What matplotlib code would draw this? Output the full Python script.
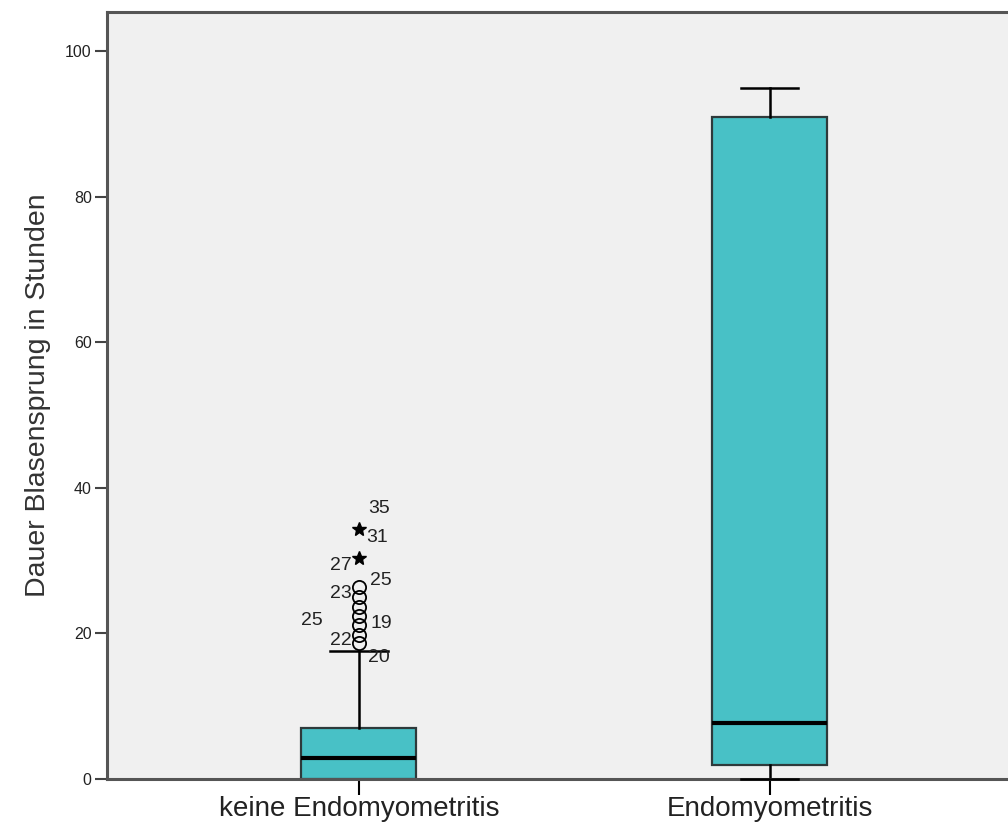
import matplotlib
matplotlib.use("Agg")
import matplotlib.pyplot as plt

# Groups and box-plot summaries (hours)
groups = ["keine Endomyometritis", "Endomyometritis"]
whisker_low = [0.0, 0.0]
q1 = [0.0, 1.9]
median = [2.9, 7.7]
q3 = [7.0, 91.0]
whisker_high = [17.6, 95.0]

# Outliers of the first group
mild_outliers = [26.4, 25.0, 23.6, 22.4, 21.2, 19.8, 18.7]
extreme_outliers = [34.4, 30.4]

# Case labels: (text, value of the point it belongs to)
case_labels = [("35", 34.4), ("31", 34.4), ("27", 30.4), ("25", 26.4),
               ("23", 25.0), ("25", 21.2), ("19", 21.2), ("22", 18.7),
               ("20", 18.7)]
# label offsets in pixels (dx, dy; dy positive = up)
label_offsets = [(20, 20), (18, -9), (-18, -8), (22, 6), (-18, 4),
                 (-47, 4), (22, 1), (-18, 2), (20, -15)]

yticks = [0, 20, 40, 60, 80, 100]

W, H = 1008, 831
fig = plt.figure(figsize=(W / 100, H / 100), dpi=100)
ax = fig.add_axes([107 / W, 1 - 779 / H, (1012 - 107) / W, (779 - 12) / H])
ax.set_facecolor("#F0F0F0")

stats = []
for i, g in enumerate(groups):
    stats.append(dict(label=g, whislo=whisker_low[i], q1=q1[i], med=median[i],
                      q3=q3[i], whishi=whisker_high[i], fliers=[]))

positions = [1, 2]
parts = ax.bxp(stats, positions=positions, widths=0.28, patch_artist=True,
               showfliers=False,
               boxprops=dict(facecolor="#48C1C6", edgecolor="#2E3A3B",
                             linewidth=1.6),
               medianprops=dict(color="black", linewidth=3),
               whiskerprops=dict(color="black", linewidth=1.8),
               capprops=dict(color="black", linewidth=1.8),
               capwidths=0.14)
# caps are stored low/high per box; a low cap sitting below its box is
# drawn over the axis line
for i in range(len(groups)):
    low_cap = parts["caps"][2 * i]
    low_cap.set_clip_on(False)
    if q1[i] > whisker_low[i]:
        low_cap.set_zorder(5)
    else:
        low_cap.set_zorder(1)

# outliers
ax.plot([positions[0]] * len(mild_outliers), mild_outliers, linestyle="none",
        marker="o", markersize=9.5, markerfacecolor="none",
        markeredgecolor="black", markeredgewidth=1.3, zorder=4)
ax.plot([positions[0]] * len(extreme_outliers), extreme_outliers,
        linestyle="none", marker="*", markersize=10.5, color="black",
        zorder=4)

for (txt, val), (dx, dy) in zip(case_labels, label_offsets):
    ax.annotate(txt, xy=(positions[0], val), xytext=(dx * 0.72, dy * 0.72),
                textcoords="offset points", ha="center", va="center",
                fontsize=14, family="Liberation Sans", color="#222222")

ax.set_xlim(0.387, 2.59)
ax.set_ylim(0, 105.4)
ax.set_yticks(yticks)
ax.set_xticks(positions)
ax.set_xticklabels(groups, fontsize=20, family="Liberation Sans",
                   color="#222222")
for lbl in ax.get_yticklabels():
    lbl.set_fontsize(11.5)
    lbl.set_family("Liberation Sans")
    lbl.set_color("#222222")

ax.tick_params(axis="y", length=9, width=1.5, color="#444444", pad=2)
ax.tick_params(axis="x", length=11.5, width=1.5, color="black", pad=1)

for side in ["left", "bottom", "top"]:
    ax.spines[side].set_color("#555555")
    ax.spines[side].set_linewidth(2.2)
ax.spines["right"].set_visible(False)

ax.set_ylabel("Dauer Blasensprung in Stunden", fontsize=20.5,
              family="Liberation Sans", color="#333333", labelpad=10)

fig.savefig("out.png", dpi=100, facecolor="white")
